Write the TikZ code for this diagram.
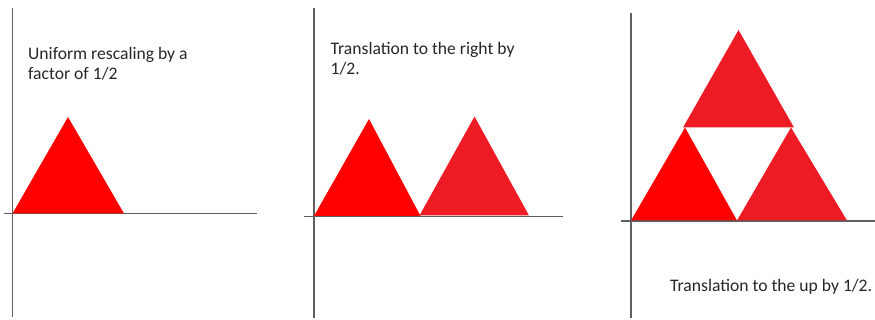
\documentclass[tikz,border=0pt]{standalone}
\usepackage{fontspec}
\setmainfont{Carlito}
\usetikzlibrary{positioning}
\definecolor{pureRed}{HTML}{FF0000}
\definecolor{paintRed}{HTML}{ED1C24}
\definecolor{axisGray}{HTML}{5F5F5F}

\begin{document}
\begin{tikzpicture}[x=1pt, y=-1pt,
    axis/.style={draw=axisGray, line width=1.3pt},
    caption/.style={font=\fontsize{17.6}{20}\selectfont, text=black!85, align=left, inner sep=0pt, anchor=base west},
    firstcopy/.style={fill=pureRed},
    movedcopy/.style={fill=paintRed}
]
\useasboundingbox (0,0) rectangle (875,320);

% Panel 1: rescaled triangle
\draw[axis] (12.5,8) -- (12.5,317);
\draw[axis] (4,213.5) -- (257,213.5);
\fill[firstcopy] (12.5,213.5) -- (124,213.5) -- (68,117) -- cycle;
\node[caption] (rescale) at (28,80) {Uniform rescaling by a\\factor of 1/2};

% Panel 2: copy moved to the right
\draw[axis] (314,8) -- (314,318);
\draw[axis] (304,216.5) -- (563,216.5);
\fill[firstcopy] (314,216) -- (420.5,216) -- (369,119) -- cycle;
\fill[movedcopy] (419.5,215.5) -- (529,215.5) -- (474.5,116.5) -- cycle;
\node[caption] (shiftright) at (330.5,75) {Translation to the right by\\1/2.};

% Panel 3: copy moved up
\draw[axis] (631,13) -- (631,318);
\draw[axis] (621,221) -- (875,221);
\fill[firstcopy] (631,220.5) -- (737,220.5) -- (685,127.5) -- cycle;
\fill[movedcopy] (737,220.5) -- (847,220.5) -- (791,127.5) -- cycle;
\fill[movedcopy] (683,127.5) -- (794,127.5) -- (738.5,30) -- cycle;
\node[caption] (shiftup) at (670,291.5) {Translation to the up by 1/2.};
\end{tikzpicture}
\end{document}
